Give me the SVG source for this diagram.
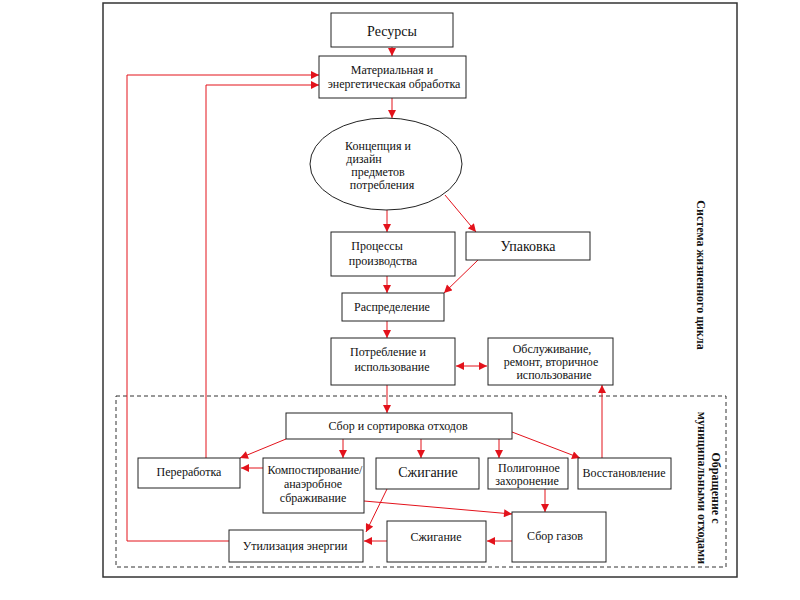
<svg xmlns="http://www.w3.org/2000/svg" width="800" height="600" viewBox="0 0 800 600">
<style>
.b{fill:#fff;stroke:#222;stroke-width:1}
.t{font-family:"Liberation Serif","Times New Roman","DejaVu Serif",serif;font-size:12px;fill:#111;text-anchor:middle}
.tl{font-size:14px}
.c{stroke:#e3121b;stroke-width:1;fill:none}
.s{font-family:"Liberation Serif","Times New Roman","DejaVu Serif",serif;font-size:12px;font-weight:bold;fill:#111;text-anchor:middle}
</style>
<defs>
<marker id="a" viewBox="0 0 10 10" refX="10" refY="5" markerWidth="9" markerHeight="8" markerUnits="userSpaceOnUse" orient="auto-start-reverse">
<path d="M0,0 L10,5 L0,10 z" fill="#e3121b"/>
</marker>
</defs>
<rect width="800" height="600" fill="#fff"/>
<rect x="103" y="3" width="634" height="574" fill="none" stroke="#333" stroke-width="1.5"/>
<rect x="116" y="396" width="610" height="171" fill="none" stroke="#333" stroke-width="1" stroke-dasharray="4,3"/>

<g id="connectors">
<line class="c" x1="392" y1="47" x2="392" y2="56" marker-end="url(#a)"/>
<line class="c" x1="392" y1="98" x2="392" y2="118" marker-end="url(#a)"/>
<line class="c" x1="387" y1="210" x2="387" y2="232" marker-end="url(#a)"/>
<line class="c" x1="445" y1="195" x2="476" y2="232" marker-end="url(#a)"/>
<line class="c" x1="387" y1="276" x2="387" y2="293" marker-end="url(#a)"/>
<line class="c" x1="478" y1="260" x2="444" y2="293" marker-end="url(#a)"/>
<line class="c" x1="387" y1="321" x2="387" y2="338" marker-end="url(#a)"/>
<line class="c" x1="456" y1="366" x2="487" y2="366" marker-start="url(#a)" marker-end="url(#a)"/>
<line class="c" x1="387" y1="385" x2="387" y2="413" marker-end="url(#a)"/>
<line class="c" x1="286" y1="439" x2="240" y2="458" marker-end="url(#a)"/>
<line class="c" x1="343" y1="439" x2="343" y2="458" marker-end="url(#a)"/>
<line class="c" x1="421" y1="439" x2="421" y2="458" marker-end="url(#a)"/>
<line class="c" x1="499" y1="439" x2="499" y2="458" marker-end="url(#a)"/>
<line class="c" x1="512" y1="432" x2="580" y2="458" marker-end="url(#a)"/>
<line class="c" x1="602" y1="458" x2="602" y2="385" marker-end="url(#a)"/>
<line class="c" x1="263" y1="468" x2="241" y2="468" marker-end="url(#a)"/>
<polyline class="c" points="206,458 206,85 319,85" marker-end="url(#a)"/>
<polyline class="c" points="229,541 127,541 127,75 319,75" marker-end="url(#a)"/>
<line class="c" x1="364" y1="501" x2="512" y2="514" marker-end="url(#a)"/>
<line class="c" x1="387" y1="489" x2="366" y2="532" marker-end="url(#a)"/>
<line class="c" x1="545" y1="489" x2="545" y2="512" marker-end="url(#a)"/>
<line class="c" x1="512" y1="541" x2="487" y2="541" marker-end="url(#a)"/>
<line class="c" x1="387" y1="541" x2="364" y2="541" marker-end="url(#a)"/>
</g>

<g id="resursy"><rect class="b" x="331" y="13" width="122" height="34"/><text class="t tl" x="392" y="36">Ресурсы</text></g>
<g id="obrabotka"><rect class="b" x="319" y="56" width="147" height="42"/><text class="t" x="392" y="74">Материальная и</text><text class="t" x="394" y="88">энергетическая обработка</text></g>
<g id="koncepciya"><ellipse class="b" cx="386" cy="164" rx="76" ry="46"/><text class="t" x="378" y="150">Концепция и</text><text class="t" x="364" y="163">дизайн</text><text class="t" x="378" y="176">предметов</text><text class="t" x="382" y="189">потребления</text></g>
<g id="processy"><rect class="b" x="331" y="232" width="124" height="44"/><text class="t" x="377" y="250">Процессы</text><text class="t" x="383" y="265">производства</text></g>
<g id="upakovka"><rect class="b" x="466" y="232" width="124" height="28"/><text class="t tl" x="528" y="251">Упаковка</text></g>
<g id="raspredelenie"><rect class="b" x="342" y="293" width="102" height="28"/><text class="t" x="392" y="311">Распределение</text></g>
<g id="potreblenie"><rect class="b" x="331" y="338" width="124" height="47"/><text class="t" x="388" y="356">Потребление и</text><text class="t" x="392" y="371">использование</text></g>
<g id="obsluzhivanie"><rect class="b" x="488" y="338" width="125" height="47"/><text class="t" x="552" y="353">Обслуживание,</text><text class="t" x="551" y="366">ремонт, вторичное</text><text class="t" x="554" y="379">использование</text></g>
<g id="sbor"><rect class="b" x="286" y="413" width="226" height="26"/><text class="t" x="398" y="430">Сбор и сортировка отходов</text></g>
<g id="pererabotka"><rect class="b" x="138" y="458" width="102" height="30"/><text class="t" x="189" y="476">Переработка</text></g>
<g id="kompost"><rect class="b" x="263" y="458" width="101" height="55"/><text class="t" x="315" y="474">Компостирование/</text><text class="t" x="313" y="488">анаэробное</text><text class="t" x="313" y="502">сбраживание</text></g>
<g id="szhiganie1"><rect class="b" x="376" y="458" width="103" height="31"/><text class="t tl" x="428" y="477">Сжигание</text></g>
<g id="poligon"><rect class="b" x="488" y="458" width="80" height="31"/><text class="t" x="529" y="472">Полигонное</text><text class="t" x="527" y="485">захоронение</text></g>
<g id="vosstanovlenie"><rect class="b" x="578" y="458" width="93" height="31"/><text class="t" x="624" y="477">Восстановление</text></g>
<g id="sborgazov"><rect class="b" x="512" y="512" width="94" height="50"/><text class="t" x="555" y="540">Сбор газов</text></g>
<g id="szhiganie2"><rect class="b" x="387" y="521" width="99" height="41"/><text class="t" x="436" y="541">Сжигание</text></g>
<g id="utilizaciya"><rect class="b" x="229" y="530" width="134" height="32"/><text class="t" x="295" y="550">Утилизация энергии</text></g>

<g id="labels">
<text class="s" transform="translate(697,275) rotate(90)">Система жизненного цикла</text>
<text class="s" transform="translate(712,488) rotate(90)">Обращение с</text>
<text class="s" transform="translate(698,488) rotate(90)">муниципальными отходами</text>
</g>
</svg>
